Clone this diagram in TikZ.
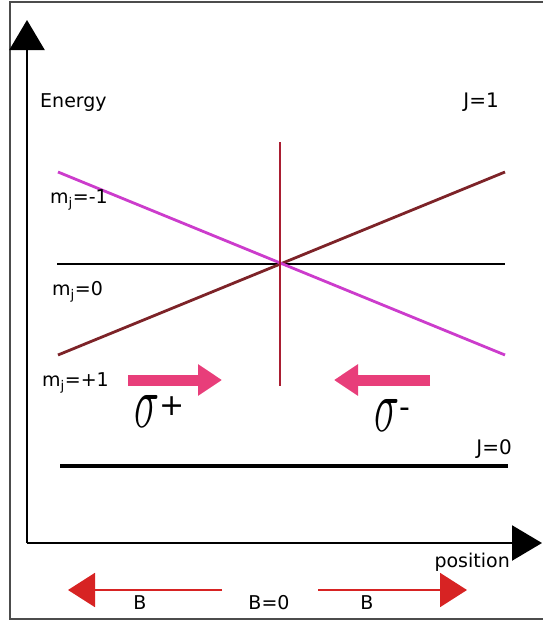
\documentclass[tikz,border=0pt]{standalone}
\usepackage{fontspec}
\setmainfont{DejaVu Sans}
\usetikzlibrary{arrows.meta,positioning}

\definecolor{levelviolet}{RGB}{204,60,204}
\definecolor{levelbrown}{RGB}{125,35,40}
\definecolor{zeroRed}{RGB}{170,30,50}
\definecolor{beampink}{RGB}{232,62,122}
\definecolor{fieldred}{RGB}{215,35,35}

\newcommand{\sigmaglyph}{\resizebox{25pt}{32pt}{$\sigma$}}

\begin{document}
\begin{tikzpicture}[x=1pt, y=-1pt,
    axis/.style={line width=2.4pt, -{Triangle[length=30pt, width=35pt]}},
    level/.style={line width=2.8pt},
    lbl/.style={font=\fontsize{19}{21}\selectfont, inner sep=0pt},
    jlbl/.style={font=\fontsize{20}{22}\selectfont, inner sep=0pt},
    sig/.style={inner sep=0pt, font=\fontsize{30}{32}\selectfont},
    beam/.style={line width=11pt, draw=beampink, -{Triangle[length=24pt, width=30pt, fill=beampink]}},
    field/.style={line width=2pt, draw=fieldred, -{Triangle[length=27pt, width=34pt, fill=fieldred]}}
]
    \useasboundingbox (0,0) rectangle (542,625);
    \draw[black!70, line width=1.5pt] (560,2) -- (10,2) -- (10,619) -- (560,619);

    % axes
    \coordinate (origin) at (27,543);
    \coordinate (ytip) at (27,20);
    \coordinate (xtip) at (542,543);
    \draw[axis] (origin) -- (ytip);
    \draw[axis] (origin) -- (xtip);
    \node[lbl, anchor=west] (energy) at (40,103) {Energy};
    \node[lbl, anchor=east] (position) at (510,562) {position};

    % J=1 sublevels
    \coordinate (mmL) at (58,172);
    \coordinate (mmR) at (505,355);
    \coordinate (mpL) at (58,355);
    \coordinate (mpR) at (505,172);
    \coordinate (mzL) at (57,264);
    \coordinate (mzR) at (505,264);
    \coordinate (cTop) at (280,142);
    \coordinate (cBot) at (280,386);
    \draw[level] (mzL) -- (mzR);
    \draw[level, levelbrown] (mpL) -- (mpR);
    \draw[level, levelviolet] (mmL) -- (mmR);
    \draw[zeroRed, line width=2.2pt] (cTop) -- (cBot);
    \node[jlbl, anchor=east] (jone) at (499,102) {J=1};
    \node[lbl, anchor=west] (mminus) at (50,200) {m\textsubscript{j}=-1};
    \node[lbl, anchor=west] (mzero) at (52,292) {m\textsubscript{j}=0};
    \node[lbl, anchor=west] (mplus) at (42,383) {m\textsubscript{j}=+1};

    % ground state
    \coordinate (gL) at (60,466);
    \coordinate (gR) at (508,466);
    \draw[line width=3.6pt] (gL) -- (gR);
    \node[jlbl, anchor=east] (jzero) at (512,449) {J=0};

    % laser beams
    \coordinate (bpS) at (128,380);
    \coordinate (bpE) at (222,380);
    \coordinate (bmS) at (430,380);
    \coordinate (bmE) at (334,380);
    \draw[beam] (bpS) -- (bpE);
    \draw[beam] (bmS) -- (bmE);
    \node[sig, anchor=west] (sigplus) at (134,411) {\sigmaglyph\raisebox{12pt}{+}};
    \node[sig, anchor=west] (sigminus) at (374,415) {\sigmaglyph\raisebox{14pt}{-}};

    % magnetic field
    \coordinate (fLS) at (222,590);
    \coordinate (fLE) at (68,590);
    \coordinate (fRS) at (318,590);
    \coordinate (fRE) at (467,590);
    \draw[field] (fLS) -- (fLE);
    \draw[field] (fRS) -- (fRE);
    \node[lbl] (bleft) at (140,603) {B};
    \node[lbl] (bzero) at (269,603) {B=0};
    \node[lbl] (bright) at (367,603) {B};
\end{tikzpicture}
\end{document}
